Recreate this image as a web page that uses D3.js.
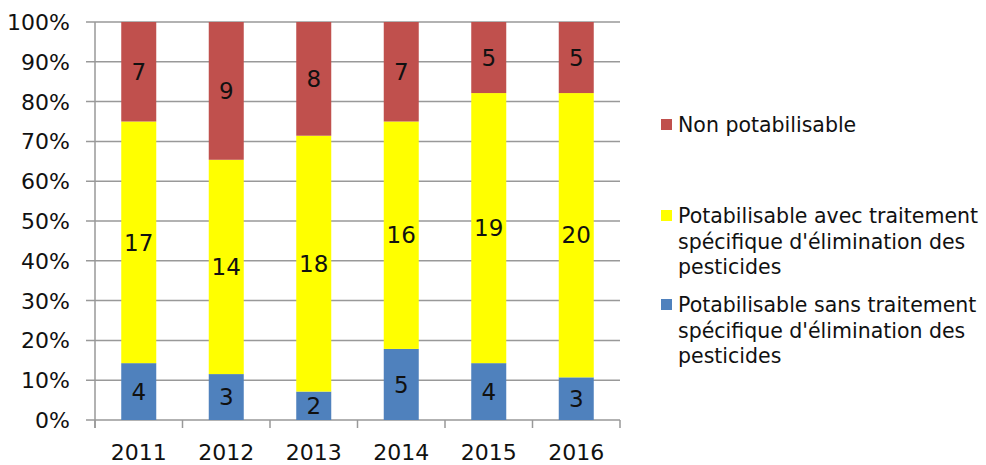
<!DOCTYPE html>
<html>
<head>
<meta charset="utf-8">
<script src="https://cdn.jsdelivr.net/npm/d3@7"></script>
<style>
  body { margin: 0; background: #fff; }
  text { font-family: "DejaVu Sans", sans-serif; fill: #111; }
</style>
</head>
<body>
<div id="chart"></div>
<script>
(function () {

// data (counts per category)
const years = ["2011", "2012", "2013", "2014", "2015", "2016"];
const sansTraitement = [4, 3, 2, 5, 4, 3];
const avecTraitement = [17, 14, 18, 16, 19, 20];
const nonPotable = [7, 9, 8, 7, 5, 5];

const seriesNames = [
  "Potabilisable sans traitement spécifique d'élimination des pesticides",
  "Potabilisable avec traitement spécifique d'élimination des pesticides",
  "Non potabilisable"
];
const seriesColors = ["#4F81BD", "#FFFF00", "#C0504D"];
const yTicks = [0, 0.1, 0.2, 0.3, 0.4, 0.5, 0.6, 0.7, 0.8, 0.9, 1];

// legend text split in lines, same order as in the picture (top to bottom)
const legendLines = [
  ["Non potabilisable"],
  ["Potabilisable avec traitement", "spécifique d'élimination des", "pesticides"],
  ["Potabilisable sans traitement", "spécifique d'élimination des", "pesticides"]
];

const W = 986, H = 465;
const margin = {top: 22, right: 366, bottom: 45, left: 95};
const width = W - margin.left - margin.right,
  height = H - margin.top - margin.bottom;

const svg = d3.select("#chart").append("svg")
    .attr("width", W)
    .attr("height", H)
  .append("g")
    .attr("transform", "translate(" + margin.left + "," + margin.top + ")");

// build rows for d3.stack, normalised to 100%
const keys = ["sans", "avec", "non"];
const rows = years.map((y, i) => {
  const total = sansTraitement[i] + avecTraitement[i] + nonPotable[i];
  return {
    year: y,
    sans: sansTraitement[i] / total,
    avec: avecTraitement[i] / total,
    non: nonPotable[i] / total,
    raw: {sans: sansTraitement[i], avec: avecTraitement[i], non: nonPotable[i]}
  };
});
const stacked = d3.stack().keys(keys)(rows);

const x = d3.scaleBand().domain(years).range([0, width]).paddingInner(0.6).paddingOuter(0.3);
const y = d3.scaleLinear().domain([0, 1]).range([height, 0]);

// gridlines
svg.append("g")
  .selectAll("line")
  .data(yTicks)
  .join("line")
    .attr("x1", -9)
    .attr("x2", width)
    .attr("y1", d => y(d))
    .attr("y2", d => y(d))
    .attr("stroke", "#999")
    .attr("stroke-width", 1.5);

// y axis line
svg.append("line")
  .attr("x1", 0).attr("x2", 0)
  .attr("y1", 0).attr("y2", height + 8)
  .attr("stroke", "#999").attr("stroke-width", 1.5);

// y labels
svg.append("g")
  .selectAll("text")
  .data(yTicks)
  .join("text")
    .attr("x", -25)
    .attr("y", d => y(d))
    .attr("dy", "0.36em")
    .attr("text-anchor", "end")
    .style("font-size", "22px")
    .text(d => d3.format(".0%")(d));

// category ticks (between bands)
svg.append("g")
  .selectAll("line")
  .data(d3.range(years.length + 1))
  .join("line")
    .attr("x1", d => d * width / years.length)
    .attr("x2", d => d * width / years.length)
    .attr("y1", height)
    .attr("y2", height + 8)
    .attr("stroke", "#999")
    .attr("stroke-width", 1.5);

// bars
const layer = svg.selectAll("g.layer")
  .data(stacked)
  .join("g")
    .attr("class", "layer")
    .attr("fill", (d, i) => seriesColors[i]);

layer.selectAll("rect")
  .data(d => d.map(v => Object.assign(v, {key: d.key})))
  .join("rect")
    .attr("x", d => x(d.data.year))
    .attr("width", x.bandwidth())
    .attr("y", d => y(d[1]))
    .attr("height", d => y(d[0]) - y(d[1]));

layer.selectAll("text")
  .data(d => d)
  .join("text")
    .attr("x", d => x(d.data.year) + x.bandwidth() / 2)
    .attr("y", d => (y(d[0]) + y(d[1])) / 2)
    .attr("dy", "0.36em")
    .attr("text-anchor", "middle")
    .style("font-size", "23px")
    .text(d => d.data.raw[d.key]);

// x labels
svg.append("g")
  .selectAll("text")
  .data(years)
  .join("text")
    .attr("x", d => x(d) + x.bandwidth() / 2)
    .attr("y", height + 40)
    .attr("text-anchor", "middle")
    .style("font-size", "22px")
    .text(d => d);

// legend
const legendTop = [125, 216, 305];
const legendColorIdx = [2, 1, 0];
const legend = svg.append("g")
  .attr("transform", "translate(" + (661 - margin.left) + "," + (-margin.top) + ")");

legendLines.forEach((lines, i) => {
  legend.append("rect")
    .attr("x", 0)
    .attr("y", legendTop[i] - 6)
    .attr("width", 11)
    .attr("height", 11)
    .attr("fill", seriesColors[legendColorIdx[i]]);
  legend.append("text")
    .attr("x", 17)
    .attr("y", legendTop[i])
    .style("font-size", "20.5px")
    .selectAll("tspan")
    .data(lines)
    .join("tspan")
      .attr("x", 17)
      .attr("dy", (d, j) => j === 0 ? "0.36em" : "25.5px")
      .text(d => d);
});

})()
</script>
</body>
</html>
